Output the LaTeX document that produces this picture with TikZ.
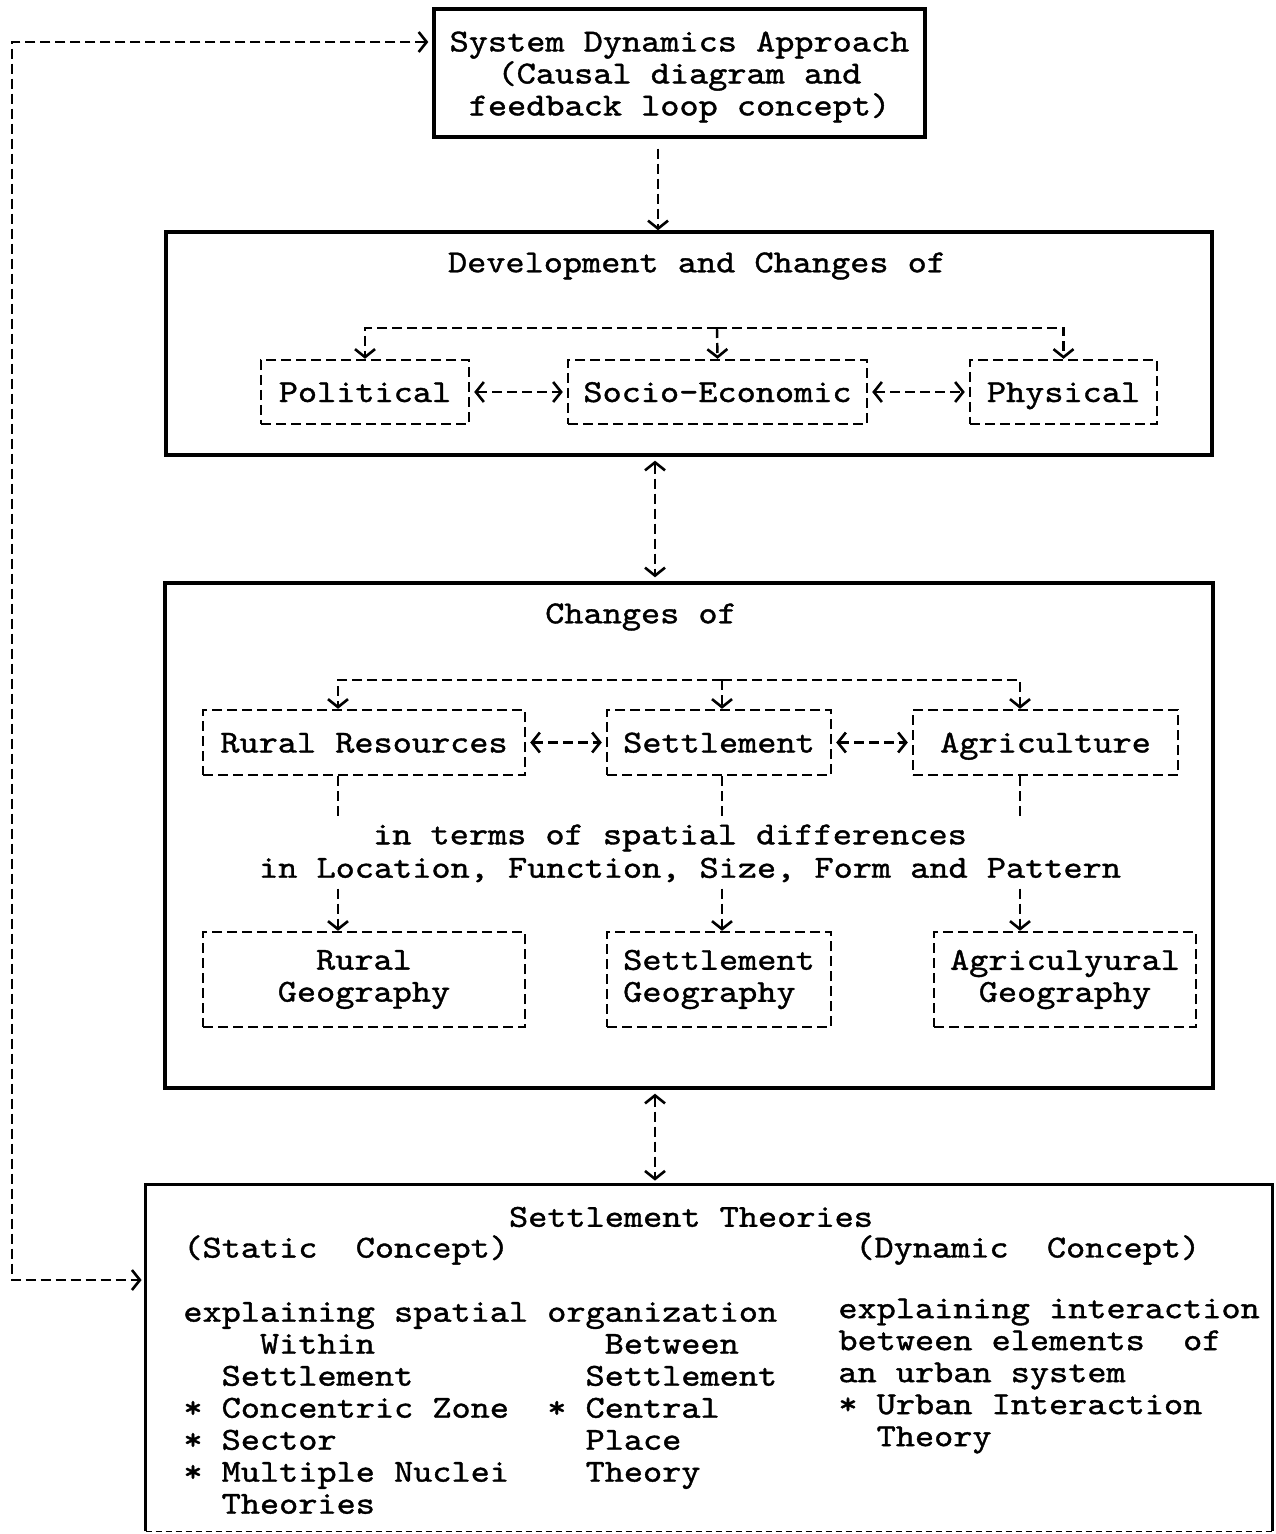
\documentclass[tikz,border=0pt]{standalone}
\usepackage{fontspec}
\newfontfamily\typew{lmmono10-regular.otf}[FakeStretch=1.14,FakeBold=1.2]
\usetikzlibrary{arrows.meta,positioning}

\begin{document}
\begin{tikzpicture}[x=0.5pt,y=-0.5pt,
	font=\typew\fontsize{16}{16}\selectfont,
	solidbox/.style={shape=rectangle, draw=black, line width=1.7pt, inner sep=0pt},
	dashbox/.style={shape=rectangle, draw=black, line width=1.2pt, dash pattern=on 5pt off 2.5pt, inner sep=0pt},
	onebox/.style={dashbox, text height=12pt, text depth=2pt},
	txt/.style={inner sep=0pt},
	dline/.style={line width=1.2pt, dash pattern=on 5pt off 2.5pt, -{Straight Barb[length=4pt,width=10pt,line width=1.3pt]}},
	dboth/.style={dline, {Straight Barb[length=4pt,width=10pt,line width=1.3pt]}-{Straight Barb[length=4pt,width=10pt,line width=1.3pt]}, shorten <=2pt, shorten >=2pt}]
	\useasboundingbox (0,0) rectangle (1275,1534);

	\draw node[solidbox, minimum width=245.5pt, minimum height=64pt, align=center](sda) at (679.5,73){\rule{0pt}{14pt}System Dynamics Approach\\(Causal diagram and\\feedback loop concept)};

	\draw node[solidbox, minimum width=523pt, minimum height=111.5pt](dev) at (689,343.5){};
	\draw node[txt](devtitle) at (697,266){Development and Changes of};
	\draw node[onebox, minimum width=104pt, minimum height=32pt](pol) at (365,392){Political};
	\draw node[onebox, minimum width=149.5pt, minimum height=32pt](soc) at (717.5,392){Socio-Economic};
	\draw node[onebox, minimum width=93.5pt, minimum height=32pt](phy) at (1063.5,392){Physical};

	\draw node[solidbox, minimum width=524pt, minimum height=252.5pt](chg) at (689,835.5){};
	\draw node[txt](chgtitle) at (641,617){Changes of};
	\draw node[onebox, minimum width=161pt, minimum height=32.5pt](rr) at (364,742.5){Rural Resources};
	\draw node[onebox, minimum width=112pt, minimum height=32.5pt](set) at (719,742.5){Settlement};
	\draw node[onebox, minimum width=132.5pt, minimum height=32.5pt](agr) at (1045.5,742.5){Agriculture~};
	\draw node[dashbox, minimum width=161pt, minimum height=47.5pt, align=center](rgeo) at (364,979.5){Rural\\Geography};
	\draw node[dashbox, minimum width=112pt, minimum height=47.5pt, align=left](sgeo) at (719,979.5){Settlement\\Geography};
	\draw node[dashbox, minimum width=131pt, minimum height=47.5pt, align=center](ageo) at (1065,979.5){Agriculyural\\Geography};
	\draw node[txt, inner sep=3pt](spatial1) at (670,838){in terms of spatial differences};
	\draw node[txt, inner sep=3pt](spatial2) at (690,870){in Location, Function, Size, Form and Pattern};

	\draw node[shape=rectangle, minimum width=563pt, minimum height=173pt, inner sep=0pt](theo) at (709,1358){};
	\draw[line width=1.7pt] (theo.south west) -- (theo.north west) -- (theo.north east) -- (theo.south east);
	\draw[line width=0.8pt, dash pattern=on 3pt off 2pt] (theo.south west) -- (theo.south east);
	\draw node[txt](theotitle) at (691,1217){Settlement Theories};
	\draw node[txt, anchor=west](static) at (183,1250){(Static~~Concept)};
	\draw node[txt, anchor=west](dynamic) at (855,1250){(Dynamic~~Concept)};
	\draw node[txt, anchor=west, align=left](within) at (183,1408){explaining spatial organization\\~~~~Within~~~~~~~~~~~~Between\\~~Settlement~~~~~~~~~Settlement\\* Concentric Zone~~* Central\\* Sector~~~~~~~~~~~~~Place\\* Multiple Nuclei~~~~Theory\\~~Theories};
	\draw node[txt, anchor=west, align=left](urban) at (838,1376){explaining interaction\\between elements~~of\\an urban system\\* Urban Interaction\\~~Theory};

	\coordinate (dropx) at (658,0);
	\coordinate (midx) at (655,0);
	\coordinate (loopnw) at (12,42);
	\coordinate (loopsw) at (12,1280);
	\coordinate (devfan) at (717,328);
	\coordinate (chgfan) at (722,680);
	\coordinate (colA) at (338,0);
	\coordinate (colB) at (722,0);
	\coordinate (colC) at (1020,0);

	\draw[dline, shorten <=5pt] (sda.south -| dropx) -- (dev.north -| dropx);
	\draw[dboth] (dev.south -| midx) -- (chg.north -| midx);
	\draw[dboth] (chg.south -| midx) -- (theo.north -| midx);
	\draw[dboth] (sda.west |- loopnw) -- (loopnw) -- (loopsw) -- (theo.west |- loopsw);

	\draw[dline] (devfan) -| (pol.north);
	\draw[dline] (devfan) -- (soc.north);
	\draw[dline] (devfan) -| (phy.north);
	\draw[dboth] (pol) -- (soc);
	\draw[dboth] (soc) -- (phy);

	\draw[dline] (chgfan) -| (rr.north -| colA);
	\draw[dline] (chgfan) -- (set.north -| colB);
	\draw[dline] (chgfan) -| (agr.north -| colC);
	\draw[dboth] (rr) -- (set);
	\draw[dboth] (set) -- (agr);
	\draw[dline, -] (rr.south -| colA) -- (spatial1.north -| colA);
	\draw[dline, -] (set.south -| colB) -- (spatial1.north -| colB);
	\draw[dline, -] (agr.south -| colC) -- (spatial1.north -| colC);
	\draw[dline] (spatial2.south -| colA) -- (rgeo.north -| colA);
	\draw[dline] (spatial2.south -| colB) -- (sgeo.north -| colB);
	\draw[dline] (spatial2.south -| colC) -- (ageo.north -| colC);
\end{tikzpicture}
\end{document}
